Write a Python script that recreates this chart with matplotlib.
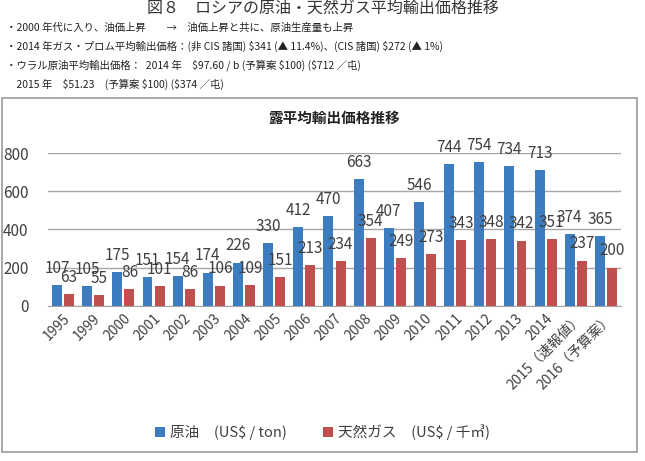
import numpy as np
import matplotlib.pyplot as plt
from matplotlib.patches import Rectangle

plt.rcParams['font.family'] = ['Noto Sans CJK JP', 'DejaVu Sans']
plt.rcParams['text.parse_math'] = False

years = ['1995', '1999', '2000', '2001', '2002', '2003', '2004', '2005', '2006',
         '2007', '2008', '2009', '2010', '2011', '2012', '2013', '2014',
         '2015（速報値）', '2016（予算案）']
crude = [107, 105, 175, 151, 154, 174, 226, 330, 412, 470, 663, 407, 546,
         744, 754, 734, 713, 374, 365]
gas = [63, 55, 86, 101, 86, 106, 109, 151, 213, 234, 354, 249, 273,
       343, 348, 342, 351, 237, 200]
header_lines = [
    '・2000 年代に入り、油価上昇　　→　油価上昇と共に、原油生産量も上昇',
    '・2014 年ガス・プロム平均輸出価格：(非 CIS 諸国) $341 (▲ 11.4%)、(CIS 諸国) $272 (▲ 1%)',
    '・ウラル原油平均輸出価格：  2014 年　$97.60 / b (予算案 $100) ($712 ／屯)',
    '　2015 年　$51.23　(予算案 $100) ($374 ／屯)',
]

blue = '#3b7dc0'
red = '#c0504d'

fig = plt.figure(figsize=(6.45, 4.61), dpi=100)
fig.patch.set_facecolor('white')

# header text
fig.text(0.5, 1 - 9 / 461, '図８　ロシアの原油・天然ガス平均輸出価格推移',
         ha='center', va='center', fontsize=11.5, color='#333333')
for i, line in enumerate(header_lines):
    fig.text(6 / 645, 1 - (28 + 18.8 * i) / 461, line, ha='left', va='center',
             fontsize=7.5, color='#222222')

# chart frame
fig.patches.append(Rectangle((2 / 645, 1 - 452 / 461), 635 / 645, 354 / 461,
                             transform=fig.transFigure, fill=False,
                             edgecolor='#9a9a9a', linewidth=1.2))

ax = fig.add_axes([48 / 645, 1 - 305.7 / 461, 573 / 645, 152.4 / 461])
x = np.arange(len(years))
w = 0.33
ax.bar(x - 0.2, crude, w, color=blue, label='原油　(US$ / ton)', zorder=3)
ax.bar(x + 0.2, gas, w, color=red, label='天然ガス　(US$ / 千㎥)', zorder=3)

for xi, c, g in zip(x, crude, gas):
    ax.annotate(str(c), (xi - 0.2, c), xytext=(0, 12), textcoords='offset points',
                ha='center', va='center', fontsize=11, color='#404040',
                annotation_clip=False)
    ax.annotate(str(g), (xi + 0.2, g), xytext=(0, 12), textcoords='offset points',
                ha='center', va='center', fontsize=11, color='#404040',
                annotation_clip=False)

ax.set_xlim(-0.5, len(years) - 0.5)
ax.set_ylim(0, 800)
ax.set_yticks([0, 200, 400, 600, 800])
ax.yaxis.grid(True, color='#a6a6a6', linewidth=1, zorder=0)
for s in ['top', 'right', 'left']:
    ax.spines[s].set_visible(False)
ax.spines['bottom'].set_color('#a6a6a6')
ax.tick_params(axis='y', length=0, pad=14, labelsize=11, labelcolor='#404040')
ax.tick_params(axis='x', length=0, pad=4, labelsize=10, labelcolor='#404040')
ax.set_xticks(x)
ax.set_xticklabels(years, rotation=45, ha='right', rotation_mode='anchor')

ax.set_title('露平均輸出価格推移', fontsize=10.5, fontweight='bold',
             color='#222222', pad=22)

fig.legend(loc='center', bbox_to_anchor=(0.5, 1 - 432 / 461), ncol=2,
           frameon=False, fontsize=10.5, handlelength=0.7, handleheight=0.7,
           handletextpad=0.3, columnspacing=2.5, labelcolor='#404040')

fig.savefig('out.png', dpi=100)
